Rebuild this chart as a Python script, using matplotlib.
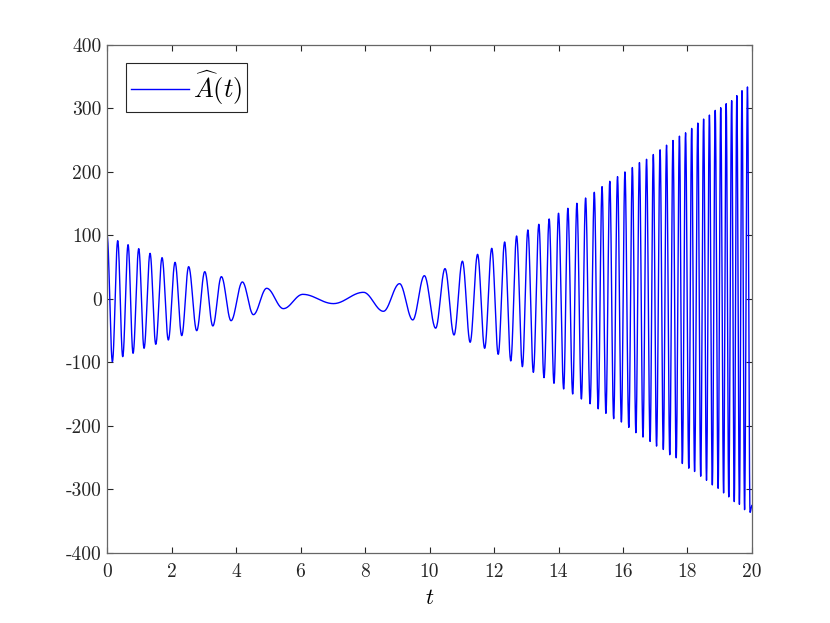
import numpy as np
import matplotlib
matplotlib.use('Agg')
import matplotlib.pyplot as plt

plt.rcParams['font.family'] = 'serif'
plt.rcParams['font.serif'] = ['cmr10', 'DejaVu Serif']
plt.rcParams['mathtext.fontset'] = 'cm'
plt.rcParams['axes.unicode_minus'] = False

# Local maxima / minima of A(t) (time, value)
t_ext = [0.00, 0.165, 0.33, 0.486, 0.651, 0.806, 0.982, 1.147, 1.333, 1.51,
         1.705, 1.90, 2.108, 2.316, 2.53, 2.78, 3.03, 3.28, 3.545, 3.845,
         4.196, 4.537, 4.95, 5.468, 6.07, 7.02, 7.95, 8.57, 9.07, 9.48,
         9.84, 10.19, 10.48, 10.76, 11.02, 11.26, 11.49, 11.71, 11.93, 12.13,
         12.33, 12.52, 12.70, 12.88, 13.05, 13.22, 13.39, 13.55, 13.71, 13.86,
         14.00, 14.16, 14.29, 14.44, 14.57, 14.71, 14.84, 14.98, 15.11, 15.23,
         15.35, 15.47, 15.59, 15.71, 15.83, 15.95, 16.06, 16.18, 16.29, 16.40,
         16.51, 16.62, 16.73, 16.84, 16.94, 17.04, 17.15, 17.25, 17.35, 17.45,
         17.55, 17.65, 17.75, 17.84, 17.94, 18.04, 18.13, 18.22, 18.32, 18.41,
         18.50, 18.59, 18.68, 18.77, 18.86, 18.95, 19.03, 19.12, 19.20, 19.28,
         19.37, 19.45, 19.53, 19.61, 19.69, 19.77, 19.86, 19.94, 20.00]
a_ext = [100, -98.7, 91.8, -90.8, 85.5, -85.6, 79.3, -77.7, 71.9, -71.4,
         65.1, -64.6, 57.7, -57.7, 50.9, -49.9, 43.0, -42.5, 35.2, -34.2,
         26.8, -24.7, 16.8, -15.2, 7.3, -7.3, 10.5, -19.4, 24.1, -33.0,
         36.7, -46.0, 47.8, -56.7, 59.5, -68.2, 70.3, -77.7, 79.8, -87.2,
         89.8, -97.6, 99.2, -106.6, 108.7, -115.5, 117.6, -123.9, 126.0, -132.8,
         135.0, -141.7, 142.8, -149.6, 150.7, -157.5, 159.0, -165.0, 168.0, -173.0,
         176.9, -180.1, 185.3, -188.5, 192.7, -193.8, 200.1, -202.2, 207.0, -210.6,
         214.8, -217.5, 220.0, -224.3, 227.5, -231.7, 234.9, -237.0, 242.2, -245.3,
         249.6, -250.1, 256.4, -259.1, 261.7, -266.5, 268.6, -271.7, 277.0, -279.1,
         283.3, -285.5, 289.6, -292.8, 297.0, -298.1, 301.2, -305.4, 307.5, -311.7,
         312.3, -319.1, 320.2, -323.4, 328.0, -331.8, 333.9, -336.0, -325.0]

x_ticks = [0, 2, 4, 6, 8, 10, 12, 14, 16, 18, 20]
y_ticks = [-400, -300, -200, -100, 0, 100, 200, 300, 400]

# smooth half-cosine arcs between neighbouring extrema
tt, aa = [], []
for i in range(len(t_ext) - 1):
    s = np.linspace(0, 1, 25, endpoint=False)
    t0, t1 = t_ext[i], t_ext[i + 1]
    a0, a1 = a_ext[i], a_ext[i + 1]
    tt.extend(t0 + (t1 - t0) * s)
    aa.extend((a0 + a1) / 2 + (a0 - a1) / 2 * np.cos(np.pi * s))
tt.append(t_ext[-1])
aa.append(a_ext[-1])

fig = plt.figure(figsize=(8.3, 6.23), dpi=100)
ax = fig.add_axes([0.129, 0.1124, 0.777, 0.8154])

ax.plot(tt, aa, color=(0, 0, 1), linewidth=1.0, label=r'$\widehat{A}(t)$')

ax.set_xlim(0, 20)
ax.set_ylim(-400, 400)
ax.set_xticks(x_ticks)
ax.set_xticklabels([str(v) for v in x_ticks])
ax.set_yticks(y_ticks)
ax.set_yticklabels([str(v) for v in y_ticks])
ax.tick_params(direction='in', length=4.5, width=0.8, colors='#262626',
               labelsize=14, top=True, right=True)
ax.tick_params(axis='x', pad=7)
ax.tick_params(axis='y', pad=4)
for sp in ax.spines.values():
    sp.set_color('#666666')
    sp.set_linewidth(0.9)

ax.set_xlabel(r'$t$', fontsize=16, labelpad=6)

leg = ax.legend(loc='upper left', fontsize=19, fancybox=False, framealpha=1,
                edgecolor='#262626', borderaxespad=0.7, handlelength=2.2,
                borderpad=0.2, handletextpad=0.15)
leg.get_frame().set_linewidth(0.8)

plt.savefig('out.png', dpi=100)
